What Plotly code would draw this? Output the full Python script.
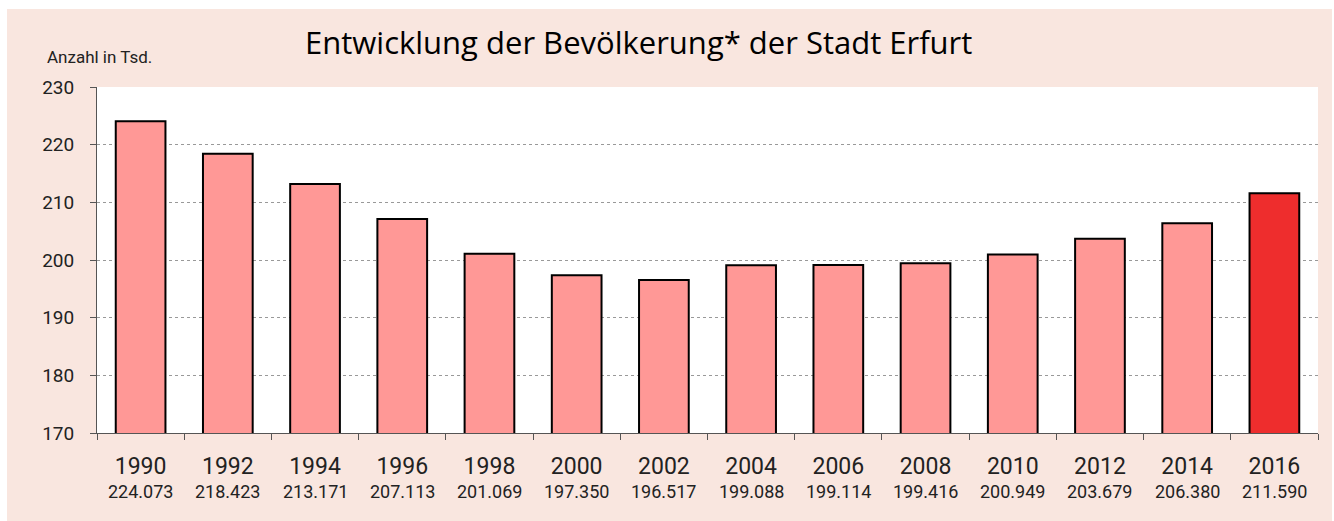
import plotly.graph_objects as go

years = ["1990", "1992", "1994", "1996", "1998", "2000", "2002",
         "2004", "2006", "2008", "2010", "2012", "2014", "2016"]
population = [224.073, 218.423, 213.171, 207.113, 201.069, 197.350, 196.517,
              199.088, 199.114, 199.416, 200.949, 203.679, 206.380, 211.590]
value_labels = ["224.073", "218.423", "213.171", "207.113", "201.069", "197.350", "196.517",
                "199.088", "199.114", "199.416", "200.949", "203.679", "206.380", "211.590"]

LIGHT = "#FF9896"
DARK = "#EE2D2D"
PANEL = "#F9E6DF"
FONT_C = "Roboto, Liberation Sans Narrow, DejaVu Sans Condensed, sans-serif"

colors = [LIGHT] * (len(years) - 1) + [DARK]

W, H = 1334, 521
L, R, T, B = 97, 16, 87, 88
pw, ph = W - L - R, H - T - B

def px_x(x):  # page pixel -> paper
    return (x - L) / pw

def px_y(y):
    return (H - B - y) / ph

fig = go.Figure(go.Bar(
    x=years, y=population,
    marker=dict(color=colors, line=dict(color="#000000", width=2)),
    width=0.57,
))

annotations = [
    dict(text="Entwicklung der Bevölkerung* der Stadt Erfurt",
         xref="paper", yref="paper", x=px_x(638), y=px_y(42),
         xanchor="center", yanchor="middle", showarrow=False,
         font=dict(family="Open Sans, sans-serif", size=31, color="#000000")),
    dict(text="Anzahl in Tsd.",
         xref="paper", yref="paper", x=px_x(45), y=px_y(57),
         xanchor="left", yanchor="middle", showarrow=False,
         font=dict(family=FONT_C, size=17, color="#222222")),
]
for i, lab in enumerate(value_labels):
    annotations.append(dict(text=lab, xref="x", yref="paper", x=i, y=px_y(492),
                            xanchor="center", yanchor="middle", showarrow=False,
                            font=dict(family=FONT_C, size=18, color="#222222")))

fig.update_layout(
    width=W, height=H,
    margin=dict(l=L, r=R, t=T, b=B),
    paper_bgcolor=PANEL,
    plot_bgcolor="#FFFFFF",
    showlegend=False,
    hovermode=False,
    font=dict(family=FONT_C, color="#222222"),
    xaxis=dict(
        type="category",
        range=[-0.5, len(years) - 0.5],
        tickmode="array", tickvals=years, ticktext=years,
        tickson="boundaries",
        ticks="outside", ticklen=6, tickcolor="#555555", tickwidth=1,
        showline=True, linecolor="#555555", linewidth=1,
        showgrid=False,
        tickfont=dict(family=FONT_C, size=23, color="#222222"),
        ticklabelstandoff=12,
    ),
    yaxis=dict(
        range=[170, 230],
        tickvals=[170, 180, 190, 200, 210, 220, 230],
        ticks="outside", ticklen=6, tickcolor="#555555", tickwidth=1,
        showline=True, linecolor="#555555", linewidth=1,
        showgrid=True, gridcolor="#999999", gridwidth=1, griddash="dot",
        zeroline=False,
        tickfont=dict(family=FONT_C, size=19, color="#222222"),
        ticklabelstandoff=12,
    ),
    shapes=[
        dict(type="rect", xref="paper", yref="paper",
             x0=px_x(1332), x1=px_x(W + 2), y0=px_y(-2), y1=px_y(H + 2),
             fillcolor="#FFFFFF", line=dict(width=0), layer="above"),
        dict(type="rect", xref="paper", yref="paper",
             x0=px_x(-2), x1=px_x(7), y0=px_y(-2), y1=px_y(H + 2),
             fillcolor="#FFFFFF", line=dict(width=0), layer="above"),
        dict(type="rect", xref="paper", yref="paper",
             x0=px_x(-2), x1=px_x(W + 2), y0=px_y(9), y1=px_y(-2),
             fillcolor="#FFFFFF", line=dict(width=0), layer="above"),
    ],
    annotations=annotations,
)

fig.write_html("out.html",
               config={"displayModeBar": False, "staticPlot": True},
               post_script="document.body.style.margin='0';document.body.style.overflow='hidden';")
